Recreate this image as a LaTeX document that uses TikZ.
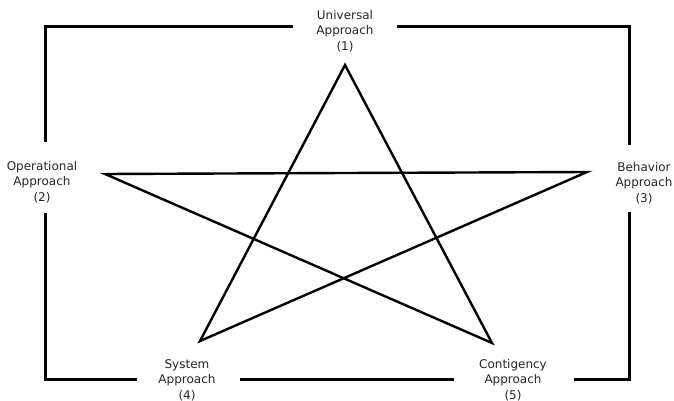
\documentclass[tikz,border=0pt]{standalone}
\usepackage{fontspec}
\setmainfont{DejaVu Sans}
\begin{document}
\begin{tikzpicture}[x=1pt,y=-1pt,
  lbl/.style={align=center,font=\fontsize{12pt}{15.5pt}\selectfont,text=black!85,inner sep=0pt},
  frame/.style={line width=3pt,line cap=butt},
  starline/.style={line width=2.4pt,line join=miter}]
\useasboundingbox (0,0) rectangle (674,401);
% labels
\node[lbl] (U) at (345,31) {Universal\\Approach\\(1)};
\node[lbl] (O) at (42,182) {Operational\\Approach\\(2)};
\node[lbl] (B) at (644,183) {Behavior\\Approach\\(3)};
\node[lbl] (S) at (187,380) {System\\Approach\\(4)};
\node[lbl] (C) at (513,380) {Contigency\\Approach\\(5)};
% frame coordinates
\coordinate (tl) at (45,27);
\coordinate (tr) at (629,27);
\coordinate (bl) at (45,379);
\coordinate (br) at (629,379);
\draw[frame] (293,27) -- (tl) -- (45,142);
\draw[frame] (397,27) -- (tr) -- (629,145);
\draw[frame] (45,213) -- (bl) -- (137,379);
\draw[frame] (629,212) -- (br) -- (574,379);
\draw[frame] (240,379) -- (454,379);
% star
\coordinate (p1) at (345,65);
\coordinate (p2) at (105,174);
\coordinate (p3) at (587,172);
\coordinate (p4) at (200,341);
\coordinate (p5) at (492,343);
\draw[starline] (p1) -- (p4) -- (p3) -- (p2) -- (p5) -- cycle;
\end{tikzpicture}
\end{document}
